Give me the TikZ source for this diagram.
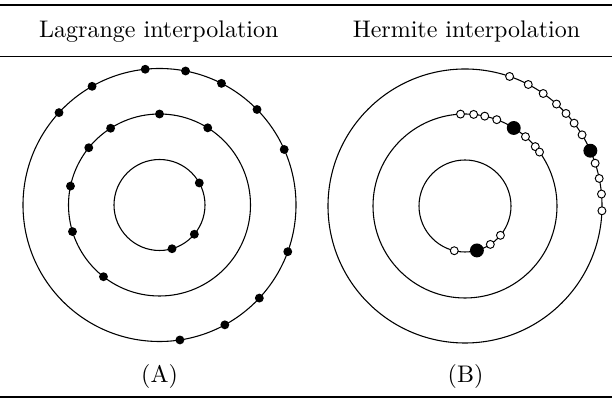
\documentclass[tikz,border=0pt]{standalone}
\begin{document}
\begin{tikzpicture}[x=0.41667pt,y=0.41667pt,
  ring/.style={line width=0.45pt},
  ldot/.style={circle,fill=black,inner sep=0pt,minimum size=3.7pt},
  odot/.style={circle,draw=black,fill=white,line width=0.4pt,inner sep=0pt,minimum size=3.3pt},
  bdot/.style={circle,fill=black,inner sep=0pt,minimum size=5.8pt},
  lbl/.style={anchor=base,inner sep=0pt,font=\normalsize}]
\useasboundingbox (0,0) rectangle (612,399);
% rules
\coordinate (t0) at (0,394.3); \coordinate (t1) at (612,394.3);
\coordinate (m0) at (0,342.3); \coordinate (m1) at (612,342.3);
\coordinate (b0) at (0,2); \coordinate (b1) at (612,2);
\draw[line width=0.8pt] (t0) -- (t1);
\draw[line width=0.5pt] (m0) -- (m1);
\draw[line width=0.8pt] (b0) -- (b1);
% headers
\node[lbl] (hl) at (158.8,361) {Lagrange interpolation};
\node[lbl] (hh) at (466.5,361) {Hermite interpolation};
\node[lbl] (la) at (159.5,16) {(A)};
\node[lbl] (lb) at (465.5,16) {(B)};
% Lagrange
\begin{scope}[shift={(159.5,194)}]
\draw[ring] (0,0) circle (45.5);
\draw[ring] (0,0) circle (91);
\draw[ring] (0,0) circle (136.5);
\foreach \a [count=\i] in {96,79,63,44.4,24,-20,-43,-61.4,-81.4,119.6,137.4}
  \node[ldot] (lo\i) at (\a:136.5) {};
\foreach \a [count=\i] in {90,58,122.5,141,168,197,232}
  \node[ldot] (lm\i) at (\a:91) {};
\foreach \a [count=\i] in {29,-40,-74}
  \node[ldot] (li\i) at (\a:45.5) {};
\end{scope}
% Hermite
\begin{scope}[shift={(465,193)}]
\draw[ring] (0,0) circle (46);
\draw[ring] (0,0) circle (92);
\draw[ring] (0,0) circle (137);
\foreach \a [count=\i] in {71,62.5,55.2,48.1,42.5,37.2,31.3,18.2,11.6,5,-2}
  \node[odot] (ho\i) at (\a:137) {};
\node[bdot] (hob) at (23.8:137) {};
\foreach \a [count=\i] in {92.8,84.6,77.6,69.8,48.9,40.2,35.9}
  \node[odot] (hm\i) at (\a:92) {};
\node[bdot] (hmb) at (58:92) {};
\foreach \a [count=\i] in {256.5,-56.6,-39.6}
  \node[odot] (hi\i) at (\a:46) {};
\node[bdot] (hib) at (-75:46) {};
\end{scope}
\end{tikzpicture}
\end{document}
